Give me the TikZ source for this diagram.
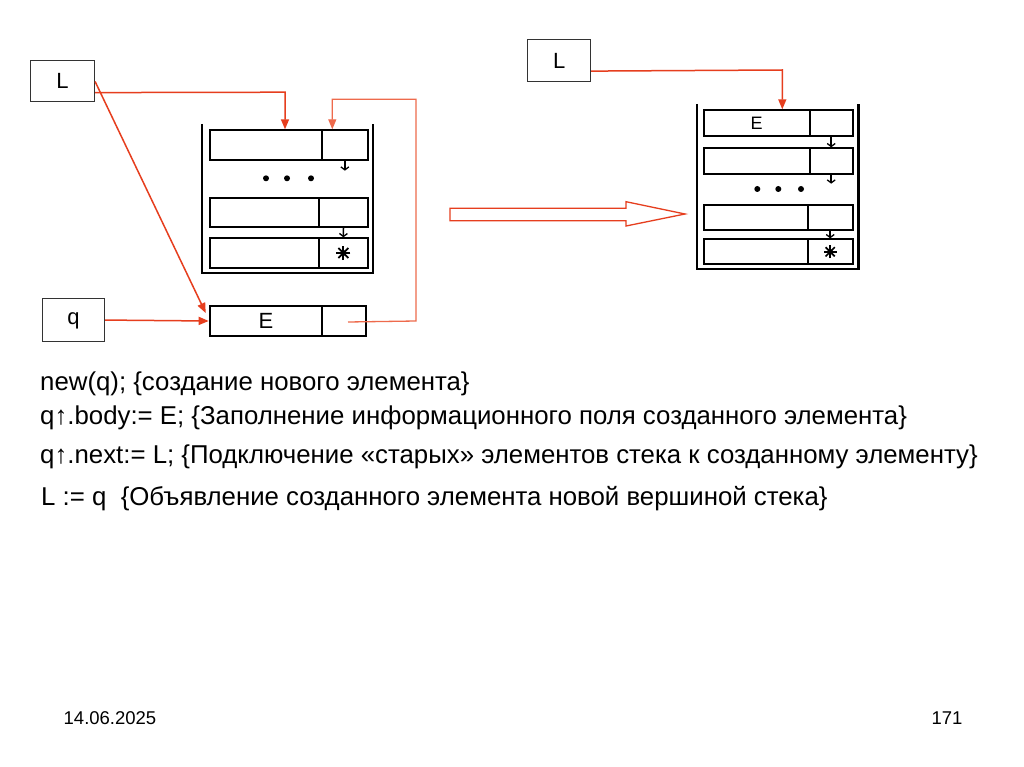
\documentclass[tikz,border=0pt]{standalone}
\usepackage{fontspec}
\setmainfont{Liberation Sans}
\usetikzlibrary{arrows.meta,calc}
\definecolor{redln}{HTML}{E63E1E}
\definecolor{redlt}{HTML}{EE6A4C}
\begin{document}
\begin{tikzpicture}[x=1pt,y=-1pt,
  cell/.style={draw=black,line width=2pt,inner sep=0pt,anchor=north west},
  varbox/.style={draw=black!80,line width=1.1pt,inner sep=0pt,anchor=north west,font=\fontsize{22}{24}\selectfont},
  wall/.style={draw=black,line width=2.4pt},
  conn/.style={draw=redln,line width=1.5pt,-{Triangle[length=10pt,width=8pt]}},
  connlt/.style={draw=redlt,line width=1.3pt,-{Triangle[length=10pt,width=8pt]}},
  link/.style={draw=black,line width=1.5pt,-{Straight Barb[length=3pt,width=8pt,line width=1.3pt]}},
  dotm/.style={fill=black,draw=none,circle,inner sep=0pt,minimum size=6pt},
  cellfont/.style={font=\fontsize{22}{24}\selectfont},
  txt/.style={anchor=base west,inner sep=0pt,font=\fontsize{25.8}{30}\selectfont},
  foot/.style={anchor=base,inner sep=0pt,font=\fontsize{18.5}{22}\selectfont}]
\useasboundingbox (0,0) rectangle (1024,767);
\fill[white] (0,0) rectangle (1024,767);

% ---------- left part ----------
\node[varbox,minimum width=64pt,minimum height=41pt] (L1) at (30,60) {L};
\node[varbox,minimum width=62pt,minimum height=43pt,text depth=2pt] (Q) at (42,298) {q};

\draw[wall] (202,124) -- (202,273) -- (372.7,273) -- (372.7,124);
\node[cell,minimum width=112.3pt,minimum height=29.4pt] (r1b) at (208.7,129.3) {};
\node[cell,minimum width=45.7pt,minimum height=29.4pt] (r1n) at (321,129.3) {};
\node[cell,minimum width=109.6pt,minimum height=29.3pt] (r2b) at (208.7,196.7) {};
\node[cell,minimum width=48.4pt,minimum height=29.3pt] (r2n) at (318.3,196.7) {};
\node[cell,minimum width=109.3pt,minimum height=29.4pt] (r3b) at (208.7,237.3) {};
\node[cell,minimum width=48.7pt,minimum height=29.4pt] (r3n) at (318,237.3) {};
\node[dotm] (ld1) at (266,178.3) {};
\node[dotm] (ld2) at (287,178.3) {};
\node[dotm] (ld3) at (311,178.3) {};
\coordinate (l1end) at ($(r1n.south)+(0,10)$);
\draw[link] (r1n.south) -- (l1end);
\draw[link] (r2n.south) -- (r3n.north);
\foreach \a in {0,45,90,135}
  \draw[line width=1.8pt] ($(r3n.center)+(\a:7)$) -- ($(r3n.center)+(\a+180:7)$);
\fill (r3n.center) circle (3);

\node[cell,cellfont,minimum width=112.3pt,minimum height=30pt] (eb) at (208.7,305) {E};
\node[cell,minimum width=44pt,minimum height=30pt] (en) at (321,305) {};

\draw[conn] ($(L1.south east)+(0,-9.5)$) -- (285,92.2) -- ($(r1b.north west)+(76.3,0)$);
\draw[conn] ($(L1.north east)+(0,21.5)$) -- ($(eb.north west)+(-3,8)$);
\draw[conn] (Q.east) -- (eb.west);
\draw[connlt] ($(en.center)+(4,1)$) -- (416,321) -- (416,99.3) -- (332.3,99.3) -- ($(r1n.north west)+(11.3,0)$);

% ---------- transition arrow ----------
\draw[draw=redln,line width=1.3pt,line join=miter]
  (450,208.3) -- (626,208.3) -- (626,201.7) -- (685,214) -- (626,226) -- (626,220.7) -- (450,220.7) -- cycle;

% ---------- right part ----------
\node[varbox,minimum width=62.7pt,minimum height=42pt] (L2) at (527.3,39) {L};
\draw[wall] (696.7,104) -- (696.7,269) -- (858.3,269) -- (858.3,104);
\node[cell,minimum width=106pt,minimum height=25.4pt,font=\fontsize{18}{20}\selectfont] (R1b) at (702.7,109.3) {E};
\node[cell,minimum width=43pt,minimum height=25.4pt] (R1n) at (808.7,109.3) {};
\node[cell,minimum width=106pt,minimum height=25.4pt] (R2b) at (702.7,147.3) {};
\node[cell,minimum width=43pt,minimum height=25.4pt] (R2n) at (808.7,147.3) {};
\node[cell,minimum width=104pt,minimum height=25.3pt] (R3b) at (702.7,204) {};
\node[cell,minimum width=45pt,minimum height=25.3pt] (R3n) at (806.7,204) {};
\node[cell,minimum width=104pt,minimum height=25pt] (R4b) at (702.7,238.3) {};
\node[cell,minimum width=45pt,minimum height=25pt] (R4n) at (806.7,238.3) {};
\node[dotm] (rd1) at (757.3,189) {};
\node[dotm] (rd2) at (778.3,189) {};
\node[dotm] (rd3) at (801,189) {};
\coordinate (r2end) at ($(R2n.south)+(0,9)$);
\draw[link] (R1n.south) -- (R2n.north);
\draw[link] (R2n.south) -- (r2end);
\draw[link] (R3n.south) -- (R4n.north);
\foreach \a in {0,45,90,135}
  \draw[line width=1.7pt] ($(R4n.center)+(\a:6.5)$) -- ($(R4n.center)+(\a+180:6.5)$);
\fill (R4n.center) circle (2.8);
\draw[conn] ($(L2.south east)+(0,-11)$) -- (782.3,70) -- ($(R1b.north west)+(79.6,0)$);

% ---------- text ----------
\node[txt] (t1) at (40,390) {new(q); \{создание нового элемента\}};
\node[txt] (t2) at (40,424) {q↑.body:= E; \{Заполнение информационного поля созданного элемента\}};
\node[txt] (t3) at (40,463) {q↑.next:= L; \{Подключение «старых» элементов стека к созданному элементу\}};
\node[txt] (t4) at (41,505) {L := q \ \{Объявление созданного элемента новой вершиной стека\}};

\node[foot] (date) at (110,724) {14.06.2025};
\node[foot] (page) at (947,724) {171};
\end{tikzpicture}
\end{document}
